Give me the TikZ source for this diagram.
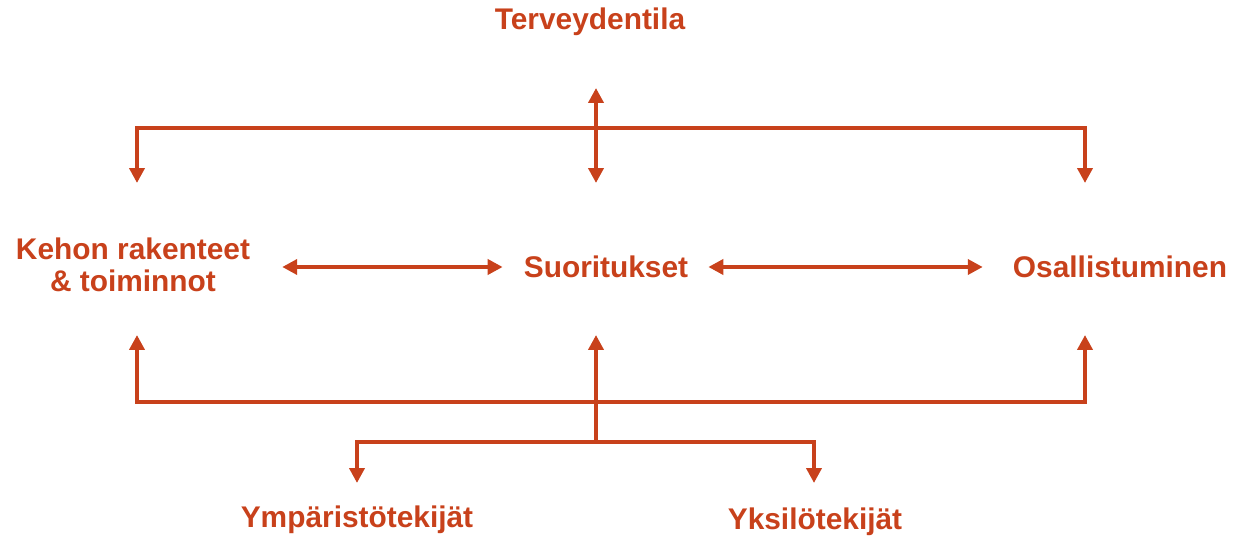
\documentclass[tikz,border=0pt]{standalone}
\usepackage{fontspec}
\setmainfont{Liberation Sans}
\usetikzlibrary{arrows.meta}
\definecolor{icfred}{HTML}{C8411B}
\tikzset{
  label text/.style={text=icfred, font=\bfseries\fontsize{17}{18.5}\selectfont},
  link/.style={draw=icfred, line width=2.2pt},
}
\begin{document}
\begin{tikzpicture}[x=0.02cm, y=-0.02cm, >={Triangle[length=8.5pt, width=8.5pt]}]
      \useasboundingbox (0,0) rectangle (1234,536);
      \node[label text] (health) at (590,22) {Terveydentila};
      \node[label text, align=center] (body) at (133,265) {Kehon rakenteet\\ \& toiminnot};
      \node[label text] (activity) at (606,267) {Suoritukset};
      \node[label text] (participation) at (1120,267) {Osallistuminen};
      \node[label text] (environment) at (357,520) {Ympäristötekijät};
      \node[label text] (personal) at (815,522) {Yksilötekijät};

      % junctions and arrow ends
      \coordinate (topM) at (596,128);
      \coordinate (healthTip) at (596,88);
      \coordinate (bodyTop) at (137,183);
      \coordinate (activityTop) at (596,183);
      \coordinate (partTop) at (1085,183);
      \coordinate (botM) at (596,402);
      \coordinate (bodyBot) at (137,335);
      \coordinate (activityBot) at (596,335);
      \coordinate (partBot) at (1085,335);
      \coordinate (split) at (596,442);
      \coordinate (envTop) at (357,483);
      \coordinate (persTop) at (814,483);

      \draw[link, <->] (healthTip) -- (activityTop);
      \draw[link, ->] (topM) -| (bodyTop);
      \draw[link, ->] (topM) -| (partTop);
      \draw[link, <->, shorten <=0.52cm, shorten >=0.3cm] (body.east |- activity) -- (activity);
      \draw[link, <->, shorten <=0.28cm, shorten >=0.48cm] (activity) -- (participation);
      \draw[link, ->] (botM) -| (bodyBot);
      \draw[link, ->] (botM) -| (partBot);
      \draw[link, ->] (split) -- (activityBot);
      \draw[link, ->] (split) -| (envTop);
      \draw[link, ->] (split) -| (persTop);
    \end{tikzpicture}
\end{document}
